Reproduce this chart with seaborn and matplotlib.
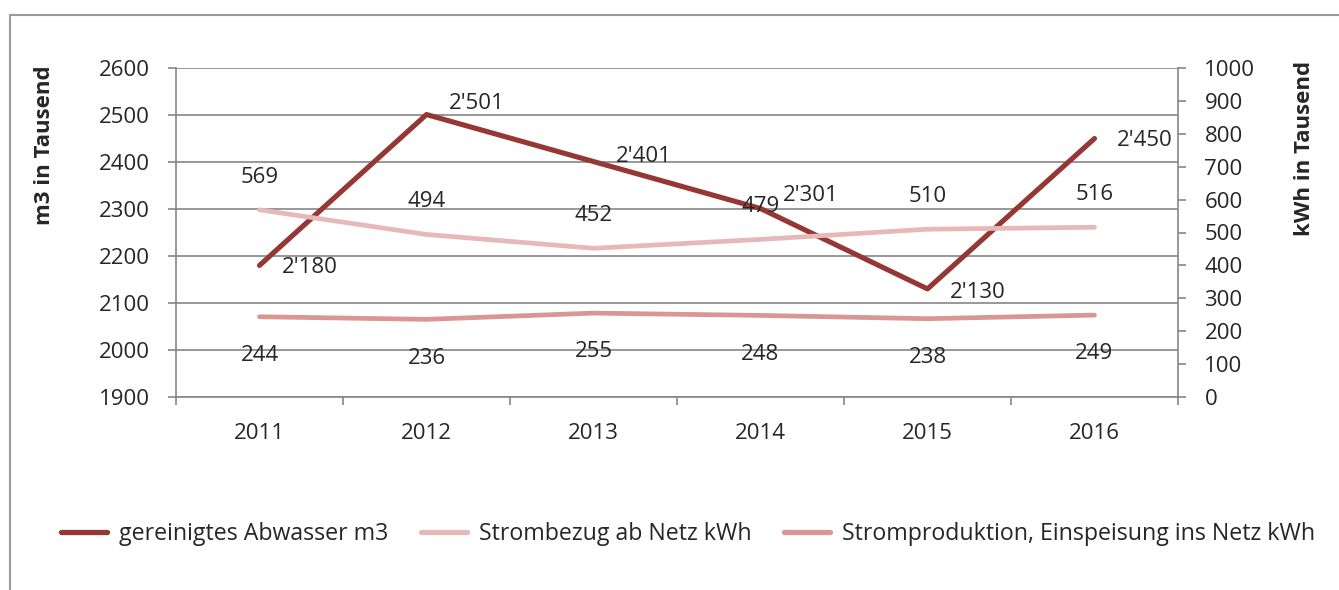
import numpy as np
import pandas as pd
import seaborn as sns
import matplotlib.pyplot as plt
from matplotlib.lines import Line2D

# data
years = ['2011', '2012', '2013', '2014', '2015', '2016']
abwasser = [2180, 2501, 2401, 2301, 2130, 2450]      # m3 in Tausend (left axis)
strombezug = [569, 494, 452, 479, 510, 516]          # kWh in Tausend (right axis)
stromprod = [244, 236, 255, 248, 238, 249]           # kWh in Tausend (right axis)

names = ['gereinigtes Abwasser m3', 'Strombezug ab Netz kWh',
         'Stromproduktion, Einspeisung ins Netz kWh']
colors = ['#953735', '#E6B9B8', '#D99694']

# vertical nudges of the Abwasser labels (points), as placed in the original
abw_dy = [-1.5, 8, 3.6, 9.4, -2.9, -1.4]

df = pd.DataFrame({'pos': np.arange(len(years)), 'abw': abwasser,
                   'bezug': strombezug, 'prod': stromprod})

sns.set_style('white')
plt.rcParams['font.family'] = ['Open Sans', 'DejaVu Sans']
fs = 16
grey = '#868686'

W, H = 1339, 590
fig = plt.figure(figsize=(W / 100, H / 100), dpi=100)
ax = fig.add_axes([176 / W, 1 - 397 / H, (1178 - 176) / W, (397 - 68) / H])
ax2 = ax.twinx()

sns.lineplot(data=df, x='pos', y='abw', ax=ax, color=colors[0], lw=3.7,
             solid_capstyle='round', zorder=5)
sns.lineplot(data=df, x='pos', y='bezug', ax=ax2, color=colors[1], lw=3.4,
             solid_capstyle='round', zorder=3)
sns.lineplot(data=df, x='pos', y='prod', ax=ax2, color=colors[2], lw=3.4,
             solid_capstyle='round', zorder=3)

ax.set_xlim(-0.5, len(years) - 0.5)
ax.set_ylim(1900, 2600)
ax2.set_ylim(0, 1000)
ax.set_yticks(np.arange(1900, 2601, 100))
ax2.set_yticks(np.arange(0, 1001, 100))
ax.set_xticks(np.arange(len(years)))
ax.set_xticklabels(years)
ax.set_xticks(np.arange(len(years) + 1) - 0.5, minor=True)

ax.grid(axis='y', color=grey, lw=1.2)
ax.set_axisbelow(True)
for a in (ax, ax2):
    for s in a.spines.values():
        s.set_visible(False)
    a.set_xlabel('')
    a.set_ylabel('')
ax.spines['left'].set_visible(True)
ax.spines['bottom'].set_visible(True)
ax2.spines['right'].set_visible(True)
for s in (ax.spines['left'], ax.spines['bottom'], ax2.spines['right']):
    s.set_color(grey)
    s.set_linewidth(1.2)

ax.tick_params(axis='y', which='major', direction='out', length=6, width=1.2,
               color=grey, pad=13, labelsize=fs, left=True)
ax2.tick_params(axis='y', which='major', direction='out', length=6, width=1.2,
                color=grey, pad=13, labelsize=fs, right=True)
ax.tick_params(axis='x', which='major', length=0, pad=19, labelsize=fs)
ax.tick_params(axis='x', which='minor', direction='out', length=6, width=1.2,
               color=grey, bottom=True)

# data labels
for x, v, dy in zip(df['pos'], abwasser, abw_dy):
    ax.annotate(f"{v // 1000}'{v % 1000:03d}", (x, v), xytext=(16, dy),
                textcoords='offset points', ha='left', va='center',
                fontsize=fs, zorder=10)
for x, v in zip(df['pos'], strombezug):
    ax2.annotate(str(v), (x, v), xytext=(0, 23.5), textcoords='offset points',
                 ha='center', va='center', fontsize=fs, zorder=10)
for x, v in zip(df['pos'], stromprod):
    ax2.annotate(str(v), (x, v), xytext=(0, -28), textcoords='offset points',
                 ha='center', va='center', fontsize=fs, zorder=10)

fig.text(45 / W, 1 - 145 / H, 'm3 in Tausend', rotation=90, ha='center',
         va='center', fontsize=fs, fontweight='bold')
fig.text(1305 / W, 1 - 148 / H, 'kWh in Tausend', rotation=90, ha='center',
         va='center', fontsize=fs, fontweight='bold')

handles = [Line2D([], [], color=c, lw=3.8) for c in colors]
fig.legend(handles, names, loc='center', bbox_to_anchor=(688 / W, 1 - 534 / H),
           ncol=3, frameon=False, fontsize=16.7, handlelength=2.0,
           handletextpad=0.5, columnspacing=1.4)

# outer chart frame (left and top edges visible)
fig.add_artist(Line2D([9.5 / W, 9.5 / W], [0, 1 - 15 / H], color='#9a9a9a', lw=1.5,
                      transform=fig.transFigure))
fig.add_artist(Line2D([9.5 / W, 1], [1 - 15 / H, 1 - 15 / H], color='#9a9a9a', lw=1.5,
                      transform=fig.transFigure))

fig.savefig('out.png', dpi=100)
